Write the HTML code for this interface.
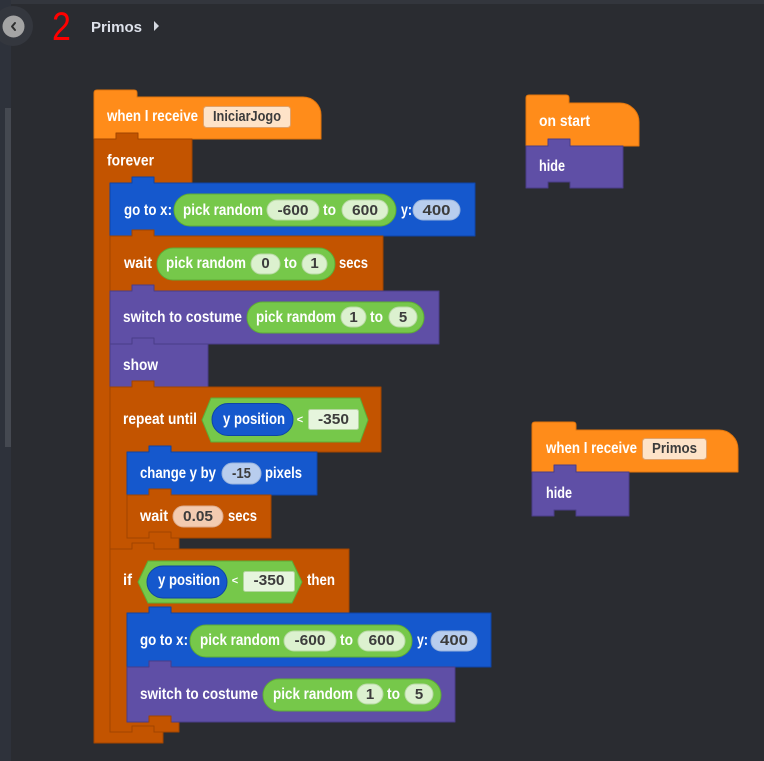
<!DOCTYPE html>
<html><head><meta charset="utf-8"><style>
html,body{margin:0;padding:0;background:#2a2c31;}
svg{display:block;}
text{font-family:"Liberation Sans",sans-serif;font-weight:bold;font-size:15px;}
.w{fill:#ffffff;font-size:16px;}
.d{fill:#3c3c3c;}
.blk{stroke-width:1;stroke-linejoin:round;}
.or{fill:#ff8c1a;stroke:#e0750c;}
.br{fill:#c35400;stroke:#a04400;}
.bl{fill:#1558cd;stroke:#0e45a6;}
.pu{fill:#5f4fa6;stroke:#4a3c88;}
.gr{fill:#76c84a;stroke:#5eac35;}
.lg{fill:#dcf1cf;stroke:#b8d9a4;}
.lb{fill:#b8cdee;stroke:#97b2dc;}
.pe{fill:#f3cbb0;stroke:#dcaa8a;}
.dd{fill:#fee3c8;stroke:#e0a26b;}
.bx{fill:#e6f5dd;stroke:#b2d69c;}
</style></head><body>
<svg width="764" height="761" viewBox="0 0 764 761" xmlns="http://www.w3.org/2000/svg">
<rect x="0" y="0" width="764" height="761" fill="#2a2c31"/>
<rect x="0" y="0" width="764" height="4" fill="#33363d"/>
<rect x="0" y="0" width="11" height="761" fill="#2e323b"/>
<rect x="5" y="108" width="6" height="339" fill="#454951"/>
<circle cx="13" cy="26" r="20" fill="#34373e"/>
<circle cx="13.5" cy="26.5" r="11" fill="#a4a4a4"/>
<path d="M15,23 L12,26.5 L15,30" fill="none" stroke="#2e2e2e" stroke-width="2" stroke-linecap="round" stroke-linejoin="round"/>
<text x="52" y="40" transform="translate(52,0) scale(0.85,1) translate(-52,0)" style="font-weight:normal;font-size:40px;fill:#ff0000">2</text>
<text x="91" y="32" style="fill:#dde1ea" textLength="51" lengthAdjust="spacingAndGlyphs">Primos</text>
<polygon points="154,21 159,26 154,31" fill="#d4d8e0"/>

<!-- Stack 1 -->
<path class="blk or" d="M94,139 V93 Q94,90 97,90 H134 Q137,90 137,93 V97 H303 A18,18 0 0 1 321,115 V139 Z"/>
<text class="w" x="107" y="121" textLength="91" lengthAdjust="spacingAndGlyphs">when I receive</text>
<rect class="dd" x="203.5" y="106.5" width="87" height="21" rx="3"/>
<text class="d" x="247" y="121" text-anchor="middle" textLength="68" lengthAdjust="spacingAndGlyphs">IniciarJogo</text>

<path class="blk br" d="M94,139 H116 V133 H138 V139 H192 V183 H110 V732 H163 V743 H94 Z"/>
<text class="w" x="107" y="165.5" textLength="47" lengthAdjust="spacingAndGlyphs">forever</text>

<!-- go to x 1 -->
<path class="blk bl" d="M110,183 H132 V177 H154 V183 H475 V236 H110 Z"/>
<text class="w" x="124" y="215" textLength="48" lengthAdjust="spacingAndGlyphs">go to x:</text>
<rect class="gr" x="174" y="194" width="222" height="32" rx="16"/>
<text class="w" x="183" y="215" textLength="80" lengthAdjust="spacingAndGlyphs">pick random</text>
<rect class="lg" x="267" y="200" width="52" height="20" rx="10"/>
<text class="d" x="293" y="215" text-anchor="middle" textLength="31" lengthAdjust="spacingAndGlyphs">-600</text>
<text class="w" x="323" y="215" textLength="13" lengthAdjust="spacingAndGlyphs">to</text>
<rect class="lg" x="342" y="200" width="46" height="20" rx="10"/>
<text class="d" x="365" y="215" text-anchor="middle" textLength="26" lengthAdjust="spacingAndGlyphs">600</text>
<text class="w" x="401" y="215" textLength="11" lengthAdjust="spacingAndGlyphs">y:</text>
<rect class="lb" x="413" y="200" width="47" height="20" rx="10"/>
<text class="d" x="436.5" y="215" text-anchor="middle" textLength="28" lengthAdjust="spacingAndGlyphs">400</text>

<!-- wait 1 -->
<path class="blk br" d="M110,236 H132 V230 H154 V236 H383 V291 H110 Z"/>
<text class="w" x="124" y="268" textLength="28" lengthAdjust="spacingAndGlyphs">wait</text>
<rect class="gr" x="157" y="248" width="178" height="32" rx="16"/>
<text class="w" x="166" y="268" textLength="80" lengthAdjust="spacingAndGlyphs">pick random</text>
<rect class="lg" x="251" y="254" width="29" height="20" rx="10"/>
<text class="d" x="265.5" y="268" text-anchor="middle">0</text>
<text class="w" x="284" y="268" textLength="13" lengthAdjust="spacingAndGlyphs">to</text>
<rect class="lg" x="302" y="254" width="25" height="20" rx="10"/>
<text class="d" x="314.5" y="268" text-anchor="middle">1</text>
<text class="w" x="339" y="268" textLength="29" lengthAdjust="spacingAndGlyphs">secs</text>

<!-- switch costume 1 -->
<path class="blk pu" d="M110,291 H132 V285 H154 V291 H439 V344 H110 Z"/>
<text class="w" x="123" y="322" textLength="119" lengthAdjust="spacingAndGlyphs">switch to costume</text>
<rect class="gr" x="247" y="302" width="177" height="31" rx="15.5"/>
<text class="w" x="256" y="322" textLength="80" lengthAdjust="spacingAndGlyphs">pick random</text>
<rect class="lg" x="341" y="307" width="25" height="20" rx="10"/>
<text class="d" x="353.5" y="322" text-anchor="middle">1</text>
<text class="w" x="370" y="322" textLength="13" lengthAdjust="spacingAndGlyphs">to</text>
<rect class="lg" x="389" y="307" width="28" height="20" rx="10"/>
<text class="d" x="403" y="322" text-anchor="middle">5</text>

<!-- show -->
<path class="blk pu" d="M110,344 H132 V338 H154 V344 H208 V387 H110 Z"/>
<text class="w" x="123" y="370" textLength="35" lengthAdjust="spacingAndGlyphs">show</text>

<!-- repeat until -->
<path class="blk br" d="M110,387 H132 V381 H154 V387 H381 V452 H127 V538 H179 V549 H110 Z"/>
<text class="w" x="123" y="424" textLength="74" lengthAdjust="spacingAndGlyphs">repeat until</text>
<polygon class="gr" points="202,420 211,398 360,398 368,420 360,442 211,442"/>
<rect class="bl" x="212" y="403.5" width="81" height="32" rx="16"/>
<text class="w" x="223" y="424" textLength="62" lengthAdjust="spacingAndGlyphs">y position</text>
<text class="w" x="300" y="423" text-anchor="middle" style="font-size:11px">&lt;</text>
<rect class="bx" x="308.5" y="409.5" width="50" height="20" rx="2"/>
<text class="d" x="333.5" y="424" text-anchor="middle" textLength="31" lengthAdjust="spacingAndGlyphs">-350</text>

<!-- change y by -->
<path class="blk bl" d="M127,452 H149 V446 H171 V452 H317 V495 H127 Z"/>
<text class="w" x="140" y="478" textLength="76" lengthAdjust="spacingAndGlyphs">change y by</text>
<rect class="lb" x="222" y="463" width="39" height="21" rx="10.5"/>
<text class="d" x="241.5" y="478" text-anchor="middle" textLength="19" lengthAdjust="spacingAndGlyphs">-15</text>
<text class="w" x="265" y="478" textLength="37" lengthAdjust="spacingAndGlyphs">pixels</text>

<!-- wait 0.05 -->
<path class="blk br" d="M127,495 H149 V489 H171 V495 H271 V538 H127 Z"/>
<text class="w" x="140" y="521" textLength="28" lengthAdjust="spacingAndGlyphs">wait</text>
<rect class="pe" x="173" y="506" width="50" height="21" rx="10.5"/>
<text class="d" x="198" y="521" text-anchor="middle" textLength="30" lengthAdjust="spacingAndGlyphs">0.05</text>
<text class="w" x="228" y="521" textLength="29" lengthAdjust="spacingAndGlyphs">secs</text>
<path class="blk br" d="M149,538.5 V532 H171 V538.5"/>

<!-- if -->
<path class="blk br" d="M110,549 H132 V543 H154 V549 H349 V613 H127 V722 H179 V732 H110 Z"/>
<text class="w" x="123" y="585" textLength="9" lengthAdjust="spacingAndGlyphs">if</text>
<polygon class="gr" points="138,582 148,561 292,561 302,582 292,603 148,603"/>
<rect class="bl" x="147" y="566" width="80" height="32" rx="16"/>
<text class="w" x="158" y="585" textLength="62" lengthAdjust="spacingAndGlyphs">y position</text>
<text class="w" x="235" y="584" text-anchor="middle" style="font-size:11px">&lt;</text>
<rect class="bx" x="243.5" y="571.5" width="51" height="20" rx="2"/>
<text class="d" x="269" y="585" text-anchor="middle" textLength="31" lengthAdjust="spacingAndGlyphs">-350</text>
<text class="w" x="307" y="585" textLength="28" lengthAdjust="spacingAndGlyphs">then</text>

<!-- go to x 2 -->
<path class="blk bl" d="M127,613 H149 V607 H171 V613 H491 V667 H127 Z"/>
<text class="w" x="140" y="645" textLength="48" lengthAdjust="spacingAndGlyphs">go to x:</text>
<rect class="gr" x="190" y="625" width="222" height="32" rx="16"/>
<text class="w" x="200" y="645" textLength="80" lengthAdjust="spacingAndGlyphs">pick random</text>
<rect class="lg" x="284" y="631" width="52" height="20" rx="10"/>
<text class="d" x="310" y="645" text-anchor="middle" textLength="31" lengthAdjust="spacingAndGlyphs">-600</text>
<text class="w" x="340" y="645" textLength="13" lengthAdjust="spacingAndGlyphs">to</text>
<rect class="lg" x="358" y="631" width="47" height="20" rx="10"/>
<text class="d" x="381.5" y="645" text-anchor="middle" textLength="26" lengthAdjust="spacingAndGlyphs">600</text>
<text class="w" x="417" y="645" textLength="11" lengthAdjust="spacingAndGlyphs">y:</text>
<rect class="lb" x="431" y="631" width="46" height="20" rx="10"/>
<text class="d" x="454" y="645" text-anchor="middle" textLength="28" lengthAdjust="spacingAndGlyphs">400</text>

<!-- switch costume 2 -->
<path class="blk pu" d="M127,667 H149 V661 H171 V667 H455 V722 H127 Z"/>
<text class="w" x="140" y="699" textLength="118" lengthAdjust="spacingAndGlyphs">switch to costume</text>
<rect class="gr" x="263" y="679" width="178" height="32" rx="16"/>
<text class="w" x="273" y="699" textLength="80" lengthAdjust="spacingAndGlyphs">pick random</text>
<rect class="lg" x="357" y="684" width="26" height="20" rx="10"/>
<text class="d" x="370" y="699" text-anchor="middle">1</text>
<text class="w" x="387" y="699" textLength="13" lengthAdjust="spacingAndGlyphs">to</text>
<rect class="lg" x="405" y="684" width="28" height="20" rx="10"/>
<text class="d" x="419" y="699" text-anchor="middle">5</text>
<path class="blk br" d="M149,722.5 V716 H171 V722.5"/>
<path class="blk br" d="M132,732.5 V726 H154 V732.5"/>

<!-- on start -->
<path class="blk or" d="M526,146 V98 Q526,95 529,95 H566 Q569,95 569,98 V103 H620 A19,19 0 0 1 639,122 V146 Z"/>
<text class="w" x="539" y="126" textLength="51" lengthAdjust="spacingAndGlyphs">on start</text>
<path class="blk pu" d="M526,146 H548 V139 H570 V146 H623 V188 H570 V182 H548 V188 H526 Z"/>
<text class="w" x="539" y="171" textLength="26" lengthAdjust="spacingAndGlyphs">hide</text>

<!-- when I receive Primos -->
<path class="blk or" d="M532,472 V425 Q532,422 535,422 H573 Q576,422 576,425 V430 H719 A19,19 0 0 1 738,449 V472 Z"/>
<text class="w" x="546" y="453" textLength="91" lengthAdjust="spacingAndGlyphs">when I receive</text>
<rect class="dd" x="642.5" y="438.5" width="64" height="21" rx="3"/>
<text class="d" x="674.5" y="453" text-anchor="middle" textLength="45" lengthAdjust="spacingAndGlyphs">Primos</text>
<path class="blk pu" d="M532,472 H554 V465 H576 V472 H629 V516 H576 V510 H554 V516 H532 Z"/>
<text class="w" x="546" y="498" textLength="26" lengthAdjust="spacingAndGlyphs">hide</text>
</svg>
</body></html>
